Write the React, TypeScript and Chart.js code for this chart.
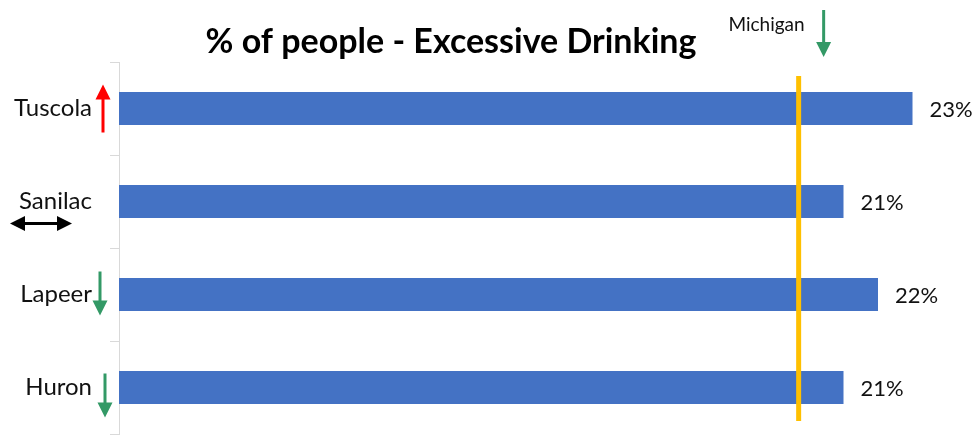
import React, { useEffect, useRef } from "react";
import { Chart, registerables } from "chart.js";

Chart.register(...registerables);

const categories = ["Tuscola", "Sanilac", "Lapeer", "Huron"];
const values = [23, 21, 22, 21];
const valueLabels = ["23%", "21%", "22%", "21%"];
const trends = ["up", "both", "down", "down"];
const michiganValue = 19.7;
const michiganLabel = "Michigan";
const michiganTrend = "down";
const titleText = "% of people - Excessive Drinking";

const FONT = "Lato, 'Open Sans', sans-serif";

function arrow(ctx: CanvasRenderingContext2D, x1: number, y1: number, x2: number, y2: number, color: string, both = false) {
  const head = 15;
  const hw = 7.5;
  const lw = 3;
  const ang = Math.atan2(y2 - y1, x2 - x1);
  const drawHead = (tx: number, ty: number, a: number) => {
    ctx.beginPath();
    ctx.moveTo(tx, ty);
    ctx.lineTo(tx - head * Math.cos(a) + hw * Math.sin(a), ty - head * Math.sin(a) - hw * Math.cos(a));
    ctx.lineTo(tx - head * Math.cos(a) - hw * Math.sin(a), ty - head * Math.sin(a) + hw * Math.cos(a));
    ctx.closePath();
    ctx.fill();
  };
  ctx.save();
  ctx.strokeStyle = color;
  ctx.fillStyle = color;
  ctx.lineWidth = lw;
  ctx.beginPath();
  const sx = both ? x1 + (head - 2) * Math.cos(ang) : x1;
  const sy = both ? y1 + (head - 2) * Math.sin(ang) : y1;
  ctx.moveTo(sx, sy);
  ctx.lineTo(x2 - (head - 2) * Math.cos(ang), y2 - (head - 2) * Math.sin(ang));
  ctx.stroke();
  drawHead(x2, y2, ang);
  if (both) drawHead(x1, y1, ang + Math.PI);
  ctx.restore();
}

const decorPlugin = {
  id: "decor",
  afterDatasetsDraw(chart: any) {
    const ctx: CanvasRenderingContext2D = chart.ctx;
    const xs = chart.scales.x;
    const ys = chart.scales.y;
    const area = chart.chartArea;
    // value labels
    const meta = chart.getDatasetMeta(0);
    ctx.save();
    ctx.font = `22px ${FONT}`;
    ctx.fillStyle = "#111";
    ctx.textBaseline = "middle";
    ctx.textAlign = "left";
    meta.data.forEach((el: any, i: number) => {
      ctx.fillText(valueLabels[i], el.x + 17, el.y + 1);
    });
    ctx.restore();
    // Michigan line
    const mx = xs.getPixelForValue(michiganValue);
    ctx.save();
    ctx.strokeStyle = "#FFC000";
    ctx.lineWidth = 5;
    ctx.beginPath();
    ctx.moveTo(mx, area.top + 14);
    ctx.lineTo(mx, area.bottom - 13);
    ctx.stroke();
    ctx.restore();
    // Michigan label + arrow
    ctx.save();
    ctx.font = `19px ${FONT}`;
    ctx.fillStyle = "#111";
    ctx.textAlign = "right";
    ctx.textBaseline = "alphabetic";
    ctx.fillText(michiganLabel, mx + 6, 31);
    ctx.restore();
    const green = "#339966";
    if (michiganTrend === "down") arrow(ctx, mx + 25, 10, mx + 25, 57, green);
    else if (michiganTrend === "up") arrow(ctx, mx + 25, 57, mx + 25, 10, "#FF0000");
    // category trend arrows
    const ax = area.left;
    trends.forEach((t, i) => {
      const cy = ys.getPixelForValue(i);
      if (t === "up") arrow(ctx, ax - 16, cy + 24, ax - 16, cy - 24, "#FF0000");
      else if (t === "down") {
        const dx = i === categories.length - 1 ? -14 : -19;
        const dy = i === categories.length - 1 ? 8 : -1;
        arrow(ctx, ax + dx, cy - 22 + dy, ax + dx, cy + 22 + dy, green);
      } else if (t === "both") arrow(ctx, 10, cy + 22, 72, cy + 22, "#000000", true);
    });
    // title
    ctx.save();
    ctx.font = `bold 34px ${FONT}`;
    ctx.fillStyle = "#000";
    ctx.textAlign = "center";
    ctx.textBaseline = "alphabetic";
    ctx.fillText(titleText, 451, 53);
    ctx.restore();
  },
};

export default function App() {
  const ref = useRef<HTMLCanvasElement | null>(null);
  useEffect(() => {
    if (!ref.current) return;
    const chart = new Chart(ref.current, {
      type: "bar",
      data: {
        labels: categories,
        datasets: [
          {
            data: values,
            backgroundColor: "#4472C4",
            borderWidth: 0,
            categoryPercentage: 1,
            barPercentage: 0.355,
          },
        ],
      },
      options: {
        indexAxis: "y",
        animation: false,
        responsive: false,
        maintainAspectRatio: false,
        layout: { padding: { top: 62, right: 32, bottom: 1, left: 0 } },
        plugins: { legend: { display: false }, tooltip: { enabled: false }, title: { display: false } },
        scales: {
          x: { display: false, min: 0, max: 24 },
          y: {
            afterFit: (s: any) => {
              s.width = 119;
              s.paddingTop = 0;
              s.paddingBottom = 0;
            },
            border: { color: "#d9d9d9", width: 1 },
            grid: { drawOnChartArea: false, tickLength: 9, color: "#d9d9d9", offset: true },
            ticks: { color: "#111", font: { family: FONT, size: 24 }, padding: 18 },
          },
        },
      },
      plugins: [decorPlugin],
    });
    return () => chart.destroy();
  }, []);
  return (
    <div style={{ position: "absolute", left: 0, top: 0, width: 979, height: 435, background: "#fff" }}>
      <canvas ref={ref} width={979} height={435} style={{ display: "block", width: 979, height: 435 }} />
    </div>
  );
}
